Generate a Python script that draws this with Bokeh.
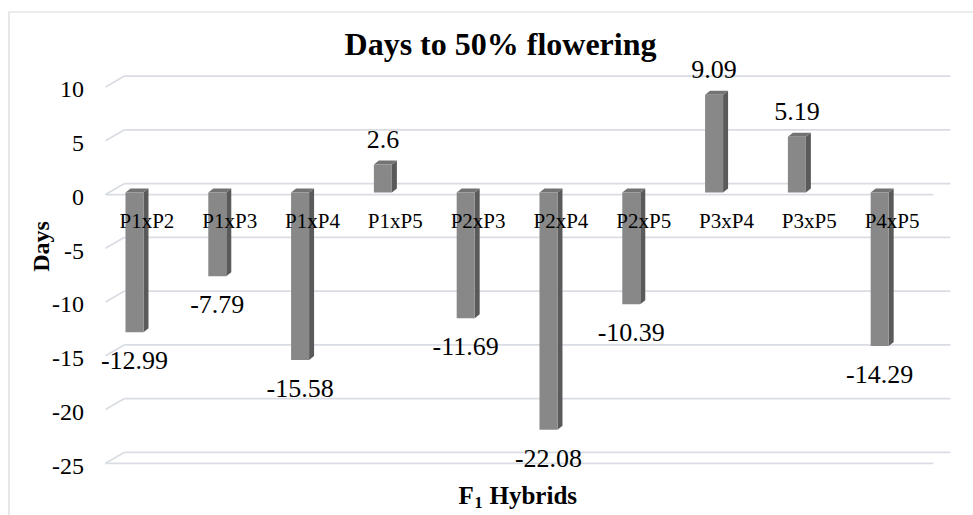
import math
from bokeh.plotting import figure
from bokeh.models import Range1d
from bokeh.embed import file_html
from bokeh.resources import INLINE
from bokeh.core.properties import value

# ---------------- data ----------------
hybrids = ["P1xP2", "P1xP3", "P1xP4", "P1xP5", "P2xP3",
           "P2xP4", "P2xP5", "P3xP4", "P3xP5", "P4xP5"]
days = [-12.99, -7.79, -15.58, 2.6, -11.69, -22.08, -10.39, 9.09, 5.19, -14.29]
value_labels = ["-12.99", "-7.79", "-15.58", "2.6", "-11.69",
                "-22.08", "-10.39", "9.09", "5.19", "-14.29"]
y_ticks = [10, 5, 0, -5, -10, -15, -20, -25]
y_tick_labels = ["10", "5", "0", "-5", "-10", "-15", "-20", "-25"]
title_text = "Days to 50% flowering"
y_title = "Days"

# ---------------- geometry (data units) ----------------
PXX = 82.8      # px per category slot
PXY = 10.75     # px per day
FRONT_DY = -2 / PXY          # front wall edge relative to bar plane
BACK_DY = 9 / PXY            # back wall relative to bar plane
BACK_X0 = 19 / PXX
BACK_X1 = 10 + 17 / PXX
BAR_OFF = 0.35
BAR_W = 18 / PXX
DEPTH_DX = 5 / PXX
DEPTH_DY = 4 / PXY

# page origin of the canvas (Bokeh's page template has no body margin)
OX, OY = 0, 0


def ux(px):   # page x pixel -> category units
    return (px - 105) / PXX


def vy(py):   # page y pixel -> days units
    return (192 - py) / PXY


FONT = "Liberation Serif"
GRID = "#d9dde3"
FRONT = "#888888"
SIDE = "#5a5a5a"
TOP = "#737373"
BORDER = "#d9d9d9"

n = len(days)
W, H = 973, 515

p = figure(width=W, height=H, output_backend="svg", toolbar_location=None,
           x_range=Range1d(ux(OX), ux(OX + W)), y_range=Range1d(vy(OY + H), vy(OY)),
           x_axis_location=None, y_axis_location=None,
           min_border_left=0, min_border_right=0, min_border_top=0,
           min_border_bottom=0)
p.grid.visible = False
p.outline_line_color = None
p.background_fill_color = "white"
p.border_fill_color = "white"

# chart border (left and top edges visible in the crop)
p.line(x=[ux(8.5), ux(8.5), ux(OX + W)], y=[vy(OY + H), vy(11.5), vy(11.5)],
       line_color=BORDER, line_width=1.2)

# walls / gridlines
p.multi_line(xs=[[BACK_X0, BACK_X1] for t in y_ticks],
             ys=[[t + BACK_DY, t + BACK_DY] for t in y_ticks],
             line_color=GRID, line_width=1.75)
p.multi_line(xs=[[0, BACK_X0] for t in y_ticks],
             ys=[[t + FRONT_DY, t + BACK_DY] for t in y_ticks],
             line_color=GRID, line_width=1.75)
floor = [0, min(y_ticks)]
p.multi_line(xs=[[0, 10] for t in floor],
             ys=[[t + FRONT_DY, t + FRONT_DY] for t in floor],
             line_color=GRID, line_width=1.75)

# y tick labels
TICK_SHIFT = 0.45
p.text(x=[ux(83.5)] * len(y_ticks), y=[t - TICK_SHIFT for t in y_ticks],
       text=y_tick_labels, text_align="right", text_baseline="middle",
       text_font=value(FONT), text_font_size="24px", text_color="black")

# y axis title
p.text(x=[ux(40.5)], y=[vy(246)], text=[y_title], angle=math.pi / 2,
       text_align="center", text_baseline="middle", text_font=value(FONT),
       text_font_size="24px", text_font_style="bold", text_color="black")

# 3D bars
xc = [i + BAR_OFF for i in range(n)]
lefts = [x - BAR_W / 2 for x in xc]
rights = [x + BAR_W / 2 for x in xc]
tops = [max(v, 0) for v in days]
bottoms = [min(v, 0) for v in days]

p.patches(xs=[[r, r + DEPTH_DX, r + DEPTH_DX, r] for r in rights],
          ys=[[t, t + DEPTH_DY, b + DEPTH_DY, b] for t, b in zip(tops, bottoms)],
          fill_color=SIDE, line_color=None)
p.patches(xs=[[l, l + DEPTH_DX, r + DEPTH_DX, r] for l, r in zip(lefts, rights)],
          ys=[[t, t + DEPTH_DY, t + DEPTH_DY, t] for t in tops],
          fill_color=TOP, line_color=None)
p.quad(left=lefts, right=rights, top=tops, bottom=bottoms,
       fill_color=FRONT, line_color=None)

# value labels (centred above positive / below negative bars)
lab_y = [v + 25 / PXY if v > 0 else v - 28.5 / PXY for v in days]
p.text(x=xc, y=lab_y, text=value_labels, text_align="center",
       text_baseline="middle", text_font=value(FONT),
       text_font_size="26px", text_color="black")

# category labels
p.text(x=[i + 0.5 for i in range(n)], y=[vy(220.5)] * n, text=hybrids,
       text_align="center", text_baseline="middle", text_font=value(FONT),
       text_font_size="21px", text_color="black")

# title
p.text(x=[ux(500)], y=[vy(43.5)], text=[title_text],
       text_align="center", text_baseline="middle", text_font=value(FONT),
       text_font_size="32px", text_font_style="bold", text_color="black")

# x axis title: F1 Hybrids (with subscript)
xb = vy(495)
p.text(x=[ux(458)], y=[xb], text=["F"], text_align="left",
       text_baseline="middle", text_font=value(FONT), text_font_size="25px",
       text_font_style="bold", text_color="black")
p.text(x=[ux(474)], y=[vy(501.5)], text=["1"], text_align="left",
       text_baseline="middle", text_font=value(FONT), text_font_size="16px",
       text_font_style="bold", text_color="black")
p.text(x=[ux(489)], y=[xb], text=["Hybrids"], text_align="left",
       text_baseline="middle", text_font=value(FONT), text_font_size="25px",
       text_font_style="bold", text_color="black")

open("out.html", "w").write(file_html(p, INLINE))
